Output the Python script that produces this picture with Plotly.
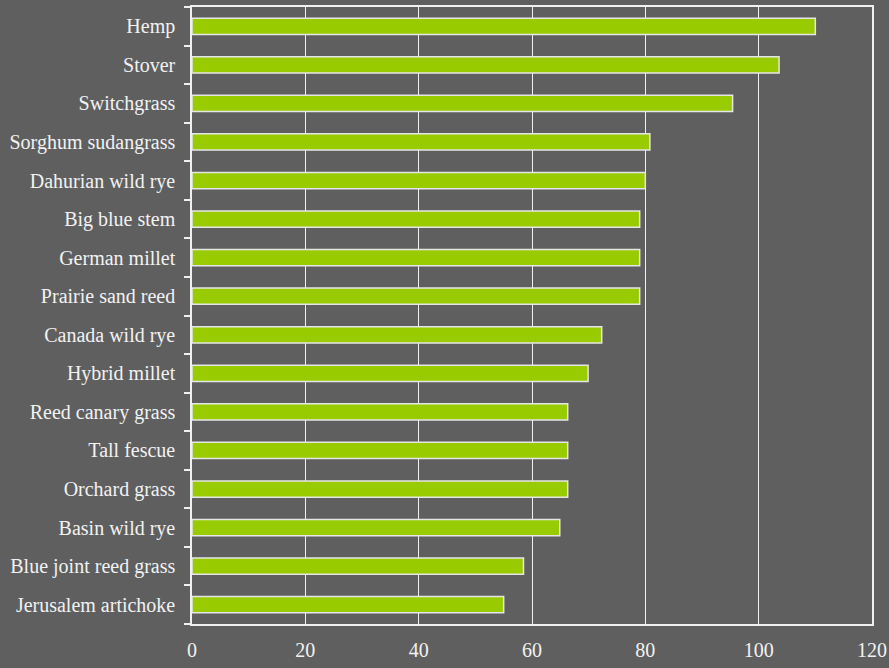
import plotly.graph_objects as go

crops = ["Hemp", "Stover", "Switchgrass", "Sorghum sudangrass", "Dahurian wild rye",
         "Big blue stem", "German millet", "Prairie sand reed", "Canada wild rye",
         "Hybrid millet", "Reed canary grass", "Tall fescue", "Orchard grass",
         "Basin wild rye", "Blue joint reed grass", "Jerusalem artichoke"]
values = [110, 103.6, 95.4, 80.8, 80, 79, 79, 79, 72.3, 69.9, 66.3, 66.3, 66.3, 64.9, 58.5, 55]
x_ticks = [0, 20, 40, 60, 80, 100, 120]

bg = "#5f5f5f"
fig = go.Figure(go.Bar(
    x=values, y=crops, orientation="h", width=0.42,
    marker=dict(color="#99cc00", line=dict(color="#e6e6e6", width=1.5)),
))
fig.update_layout(
    width=889, height=668,
    paper_bgcolor=bg, plot_bgcolor=bg,
    margin=dict(l=192, r=17, t=7, b=44, autoexpand=False),
    font=dict(family="Liberation Serif", size=20, color="#f2f2f2"),
    showlegend=False,
    bargap=0.58,
)
fig.update_xaxes(
    range=[0, 120], tickvals=x_ticks, showgrid=True, gridcolor="#f0f0f0", gridwidth=1,
    showline=True, linecolor="#f0f0f0", linewidth=1.5, mirror=True,
    ticks="", ticklabelstandoff=7, zeroline=False, automargin=False,
)
fig.update_yaxes(
    categoryorder="array", categoryarray=crops[::-1],
    autorange=False, range=[-0.5, len(crops) - 0.5],
    showline=True, linecolor="#f0f0f0", linewidth=1.5, mirror=True,
    ticks="outside", tickson="boundaries", ticklen=6, tickcolor="#f0f0f0", tickwidth=1.5,
    showgrid=False, ticklabelstandoff=11, automargin=False,
)
fig.write_html("out.html")
